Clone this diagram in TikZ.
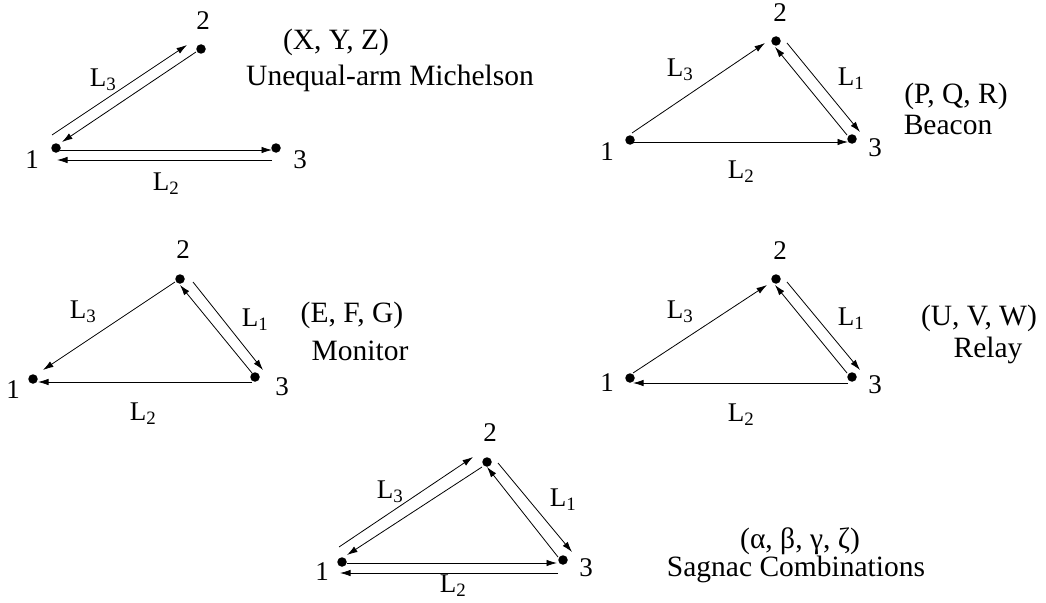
\documentclass[tikz,border=0pt]{standalone}
\usepackage{fontspec}
\setmainfont{Liberation Serif}
\usetikzlibrary{arrows.meta}
\begin{document}
\begin{tikzpicture}[x=1pt,y=-1pt,
  dot/.style={circle,fill=black,inner sep=0pt,minimum size=9.5pt},
  arr/.style={-{Latex[length=10.5pt,width=6.5pt]},line width=0.8pt},
  lbl/.style={font=\fontsize{27}{31}\selectfont,inner sep=0pt},
  ttl/.style={font=\fontsize{29.5}{33}\selectfont,inner sep=0pt,anchor=base}]
\useasboundingbox (0,0) rectangle (1046,602);
% ---------- Panel 1: Unequal-arm Michelson ----------
\node[dot] (a1) at (56,148) {};
\node[dot] (a2) at (201,49) {};
\node[dot] (a3) at (276,148) {};
\draw[arr] ([shift={(-4,-13)}]a1.center) -- ([shift={(-14,-4)}]a2.center);
\draw[arr] ([shift={(-5,3)}]a2.center) -- ([shift={(6,-6)}]a1.center);
\draw[arr] ([shift={(4,2)}]a1.center) -- ([shift={(-4,2)}]a3.center);
\draw[arr] ([shift={(-4,12)}]a3.center) -- ([shift={(1,12)}]a1.center);
\node[lbl] (a1l) at (32,160) {1};
\node[lbl] (a2l) at (203,21) {2};
\node[lbl] (a3l) at (300,160) {3};
\node[lbl] (aL3) at (103,80) {L\textsubscript{3}};
\node[lbl] (aL2) at (166,184) {L\textsubscript{2}};
\node[ttl] (at1) at (336,50) {(X, Y, Z)};
\node[ttl] (at2) at (390,85) {Unequal-arm Michelson};
% ---------- Panel 2: Beacon ----------
\node[dot] (b1) at (630,140) {};
\node[dot] (b2) at (776,41) {};
\node[dot] (b3) at (852,139) {};
\draw[arr] ([shift={(2,-7)}]b1.center) -- ([shift={(-11,2)}]b2.center);
\draw[arr] ([shift={(11,2)}]b2.center) -- ([shift={(8,-7)}]b3.center);
\draw[arr] ([shift={(-5,-4)}]b3.center) -- ([shift={(-1,6)}]b2.center);
\draw[arr] ([shift={(3,2)}]b1.center) -- ([shift={(-4,3)}]b3.center);
\node[lbl] (b1l) at (607,152) {1};
\node[lbl] (b2l) at (780,13) {2};
\node[lbl] (b3l) at (875,148) {3};
\node[lbl] (bL3) at (680,70) {L\textsubscript{3}};
\node[lbl] (bL1) at (851,79) {L\textsubscript{1}};
\node[lbl] (bL2) at (741,172) {L\textsubscript{2}};
\node[ttl] (bt1) at (956,103) {(P, Q, R)};
\node[ttl] (bt2) at (948,134) {Beacon};
% ---------- Panel 3: Monitor ----------
\node[dot] (c1) at (33,379) {};
\node[dot] (c2) at (180,279) {};
\node[dot] (c3) at (255,377) {};
\draw[arr] ([shift={(-5,3)}]c2.center) -- ([shift={(10,-9)}]c1.center);
\draw[arr] ([shift={(-3,5)}]c3.center) -- ([shift={(5,3)}]c1.center);
\draw[arr] ([shift={(13,3)}]c2.center) -- ([shift={(8,-7)}]c3.center);
\draw[arr] ([shift={(-3,-4)}]c3.center) -- ([shift={(0,6)}]c2.center);
\node[lbl] (c1l) at (13,390) {1};
\node[lbl] (c2l) at (183,250) {2};
\node[lbl] (c3l) at (282,387) {3};
\node[lbl] (cL3) at (83,312) {L\textsubscript{3}};
\node[lbl] (cL1) at (255,320) {L\textsubscript{1}};
\node[lbl] (cL2) at (143,414) {L\textsubscript{2}};
\node[ttl] (ct1) at (352,322) {(E, F, G)};
\node[ttl] (ct2) at (360,360) {Monitor};
% ---------- Panel 4: Relay ----------
\node[dot] (d1) at (630,378) {};
\node[dot] (d2) at (776,279) {};
\node[dot] (d3) at (852,377) {};
\draw[arr] ([shift={(3,-5)}]d1.center) -- ([shift={(-9,6)}]d2.center);
\draw[arr] ([shift={(-4,6)}]d3.center) -- ([shift={(3,5)}]d1.center);
\draw[arr] ([shift={(11,3)}]d2.center) -- ([shift={(8,-7)}]d3.center);
\draw[arr] ([shift={(-5,-4)}]d3.center) -- ([shift={(-1,6)}]d2.center);
\node[lbl] (d1l) at (607,383) {1};
\node[lbl] (d2l) at (780,251) {2};
\node[lbl] (d3l) at (875,385) {3};
\node[lbl] (dL3) at (680,312) {L\textsubscript{3}};
\node[lbl] (dL1) at (851,319) {L\textsubscript{1}};
\node[lbl] (dL2) at (741,415) {L\textsubscript{2}};
\node[ttl] (dt1) at (979,325) {(U, V, W)};
\node[ttl] (dt2) at (988,357) {Relay};
% ---------- Panel 5: Sagnac ----------
\node[dot] (e1) at (342,562) {};
\node[dot] (e2) at (487,462) {};
\node[dot] (e3) at (563,560) {};
\draw[arr] ([shift={(-3,-15)}]e1.center) -- ([shift={(-14,-5)}]e2.center);
\draw[arr] ([shift={(-5,5)}]e2.center) -- ([shift={(5,-7)}]e1.center);
\draw[arr] ([shift={(11,1)}]e2.center) -- ([shift={(9,-8)}]e3.center);
\draw[arr] ([shift={(-5,-3)}]e3.center) -- ([shift={(0,5)}]e2.center);
\draw[arr] ([shift={(5,1)}]e1.center) -- ([shift={(-6,3)}]e3.center);
\draw[arr] ([shift={(-5,13)}]e3.center) -- ([shift={(-2,11)}]e1.center);
\node[lbl] (e1l) at (322,572) {1};
\node[lbl] (e2l) at (490,433) {2};
\node[lbl] (e3l) at (586,568) {3};
\node[lbl] (eL3) at (390,492) {L\textsubscript{3}};
\node[lbl] (eL1) at (563,500) {L\textsubscript{1}};
\node[lbl] (eL2) at (453,586) {L\textsubscript{2}};
\node[ttl] (et1) at (800,548) {(α, β, γ, ζ)};
\node[ttl] (et2) at (796,576) {Sagnac Combinations};
\end{tikzpicture}
\end{document}
